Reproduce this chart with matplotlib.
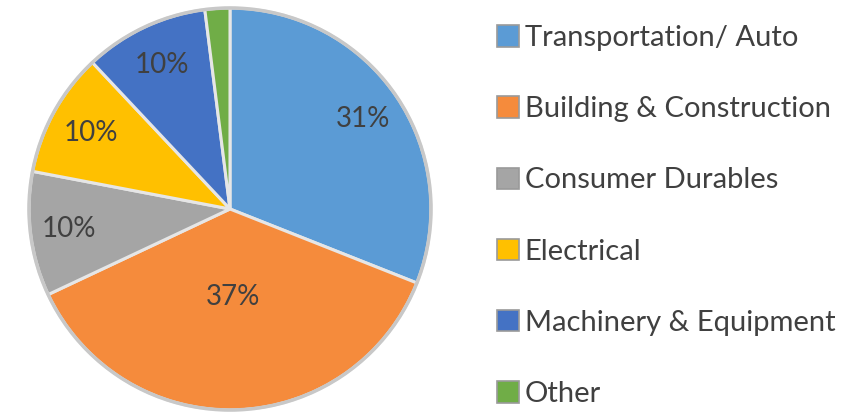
import numpy as np
import matplotlib
matplotlib.use("Agg")
import matplotlib.pyplot as plt
from matplotlib.patches import Rectangle, Circle

categories = ["Transportation/ Auto", "Building & Construction", "Consumer Durables",
              "Electrical", "Machinery & Equipment", "Other"]
shares = [31, 37, 10, 10, 10, 2]
pct_labels = ["31%", "37%", "10%", "10%", "10%", ""]
colors = ["#5B9BD5", "#F58B3C", "#A5A5A5", "#FFC000", "#4472C4", "#70AD47"]
label_dist = [0.80, 0.44, 0.81, 0.79, 0.79, 0.0]

plt.rcParams["font.family"] = ["Lato", "DejaVu Sans"]
text_col = "#404040"

W, H = 861, 412
fig = plt.figure(figsize=(W / 100, H / 100), dpi=100)
cx, cy, r = 230, 203, 201
lim = 1.02
ax = fig.add_axes([(cx - r * lim) / W, (cy - r * lim) / H, 2 * r * lim / W, 2 * r * lim / H])

wedges, _ = ax.pie(shares, colors=colors, startangle=90, counterclock=False, radius=1,
                   wedgeprops=dict(edgecolor="#E6E6E6", linewidth=2.2))
ax.add_patch(Circle((0, 0), 1.0, fill=False, edgecolor="#C8C8C8", linewidth=2.5))
ax.set_xlim(-lim, lim)
ax.set_ylim(-lim, lim)
ax.set_aspect("equal")
ax.axis("off")

for w, lab, d in zip(wedges, pct_labels, label_dist):
    if not lab:
        continue
    ang = np.deg2rad((w.theta1 + w.theta2) / 2)
    ax.text(d * np.cos(ang), d * np.sin(ang), lab, ha="center", va="center",
            fontsize=20, color=text_col)

handles = [Rectangle((0, 0), 1, 1, facecolor=c, edgecolor="#9A9A9A", linewidth=1.2) for c in colors]
leg = fig.legend(handles, categories, loc="upper left", bbox_to_anchor=(497 / W, 1 - 25 / H),
                 frameon=False, fontsize=21, labelspacing=1.55, handlelength=0.75,
                 handleheight=0.75, handletextpad=0.2, borderpad=0, borderaxespad=0)
for t in leg.get_texts():
    t.set_color(text_col)

fig.savefig("out.png", dpi=100)
